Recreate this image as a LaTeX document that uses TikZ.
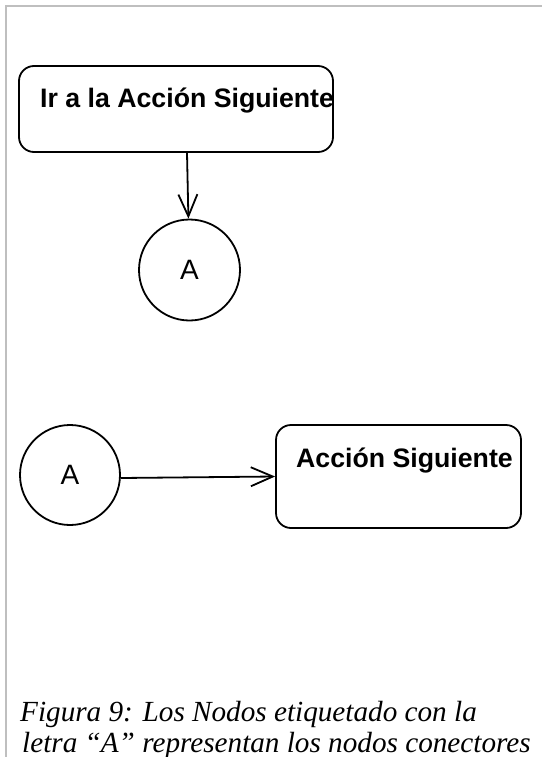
\documentclass[tikz,border=0pt]{standalone}
\usepackage{fontspec}
\setmainfont{Liberation Serif}
\newfontfamily\boxfont{Liberation Sans}
\usetikzlibrary{arrows.meta}
\begin{document}
\begin{tikzpicture}[x=1pt,y=-1pt,
  frame/.style={draw=black!25, line width=2pt},
  actionbox/.style={draw, line width=1.8pt, rectangle, rounded corners=15pt, inner sep=0pt},
  connector/.style={draw, line width=1.8pt, circle, inner sep=0pt, minimum size=101pt,
    font=\boxfont\fontsize{28}{32}\selectfont},
  boxtext/.style={anchor=base west, inner sep=0pt, font=\boxfont\bfseries\fontsize{26.7}{30}\selectfont},
  captext/.style={anchor=base west, inner sep=0pt, font=\itshape\fontsize{29.2}{33}\selectfont},
  flow/.style={line width=1.8pt, -{Straight Barb[length=22pt,width=19pt,line width=1.8pt]}}]
\useasboundingbox (0,0) rectangle (542,757);
% page frame
\draw[frame] (5.5,757) -- (5.5,6.5) -- (542,6.5);
% action boxes
\node[actionbox, minimum width=314pt, minimum height=86pt] (b1) at (176,109) {};
\node[boxtext] (t1) at (40,108) {Ir a la Acción Siguiente};
\node[actionbox, minimum width=245pt, minimum height=103pt] (b2) at (398.5,476.5) {};
\node[boxtext] (t2) at (296,467) {Acción Siguiente};
% connector nodes
\node[connector] (c1) at (189.5,270) {A};
\node[connector, minimum size=100pt] (c2) at (70,475) {A};
% flows
\draw[flow] ([xshift=11pt]b1.south) -- (c1);
\draw[flow] ([yshift=-3pt]c2.east) -- (b2.west);
% caption
\node[captext] (cap1) at (20,721) {Figura 9: Los Nodos etiquetado con la};
\node[captext] (cap2) at (22,752) {letra “A” representan los nodos conectores};
\end{tikzpicture}
\end{document}
